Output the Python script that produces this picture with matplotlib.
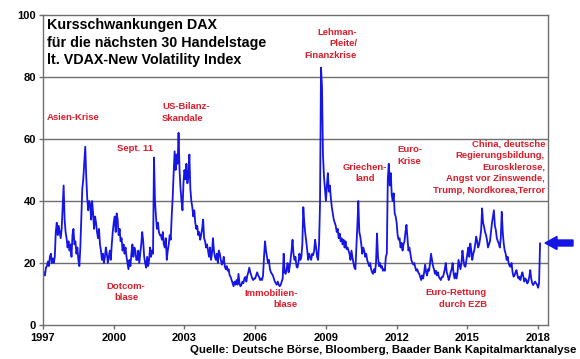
import numpy as np
import matplotlib
matplotlib.use("Agg")
import matplotlib.pyplot as plt
from matplotlib.patches import FancyArrow

# VDAX-New, semi-monthly readings (24 per year)
v1997 = [16, 17, 16, 18.5, 19, 20.5, 19, 22, 23, 20, 21.5, 20, 22, 30, 33, 29, 32, 30, 28, 31, 38, 45, 34, 30]
v1998 = [28, 25, 27, 24, 26, 22, 29, 31, 26, 27, 23, 25, 21, 19, 25, 35, 44, 47, 52, 57.5, 48, 41, 37, 40]
v1999 = [39, 34, 40, 36, 31, 35, 33, 30, 28, 31, 26, 24, 21, 23, 20, 22, 25, 23, 20, 22, 24, 21, 26, 30]
v2000 = [33, 35, 30, 36, 34, 29, 31, 27, 28, 24, 26, 23, 25, 22, 20, 18, 21, 19, 23, 26, 22, 25, 24, 21]
v2001 = [21, 24, 20, 23, 26, 30, 27, 22, 20, 18.5, 22, 19, 21, 25, 22, 24, 23, 54, 40, 35, 31, 33, 30, 29]
v2002 = [29, 27.5, 30, 26, 25, 28, 21, 24, 26, 29, 27.5, 35, 41, 49, 56, 50, 55, 52, 62, 50, 44, 40, 37, 46]
v2003 = [50, 47, 52, 45.7, 48, 55, 44, 40, 38, 35, 37, 33, 31, 32, 29, 30, 27.5, 29, 31, 34, 28, 27, 25, 26]
v2004 = [24, 22, 25, 21, 23, 28, 24, 22, 21, 23, 20, 24, 23, 21, 19.5, 20, 22, 19, 18, 19, 17.5, 18, 16, 15.5]
v2005 = [14.5, 13.5, 12.5, 14, 13, 14.5, 13, 16.5, 13.5, 12.5, 13, 14, 13.5, 15, 15.5, 14, 16, 17, 18.5, 17, 16, 15, 14.5, 15]
v2006 = [15, 16, 17, 16, 15.5, 14.5, 15, 14.5, 16, 22, 27, 24, 22, 20, 21, 18, 17, 16.5, 16, 15, 14, 13.5, 13, 14]
v2007 = [13, 12.5, 13, 14, 15, 23, 17, 16.5, 18, 20, 17, 18.5, 21, 24, 27.5, 23, 21, 22, 19, 18.5, 20, 23, 21, 22]
v2008 = [26, 38, 33, 29.5, 27, 24, 21, 23, 22, 21, 23, 22.5, 24, 27.5, 25, 22, 21, 26, 39, 83, 77, 55, 48, 44]
v2009 = [40, 45, 49, 43, 45, 41, 38, 36, 34, 33, 32, 30, 31, 28, 29.5, 27, 28, 26, 27.5, 25, 27, 24.5, 25, 24]
v2010 = [23, 21, 24, 22, 20, 18.5, 18, 25, 32, 40, 30, 28.5, 26, 23, 25, 24, 22, 23, 21, 20, 19, 20, 18, 17]
v2011 = [16.5, 18, 17, 20, 29.5, 22, 19, 20, 18.5, 19, 17.5, 18, 17.5, 22, 23, 47, 52, 45, 49, 42, 40, 42.5, 36, 35]
v2012 = [33, 29, 27.5, 28, 25, 26.5, 24, 26, 27, 30, 32.3, 28, 24, 25, 23, 21, 20, 19.5, 20, 18.5, 17.5, 18, 17, 16.5]
v2013 = [15.5, 14.5, 16, 15, 17, 19.5, 17, 16, 18, 17.5, 20, 23, 21, 19, 18, 16.5, 17.5, 16, 17, 15.5, 15, 14.5, 15.5, 15.5]
v2014 = [16.5, 18, 20, 17, 16, 14.5, 15.5, 17, 18, 20, 16.5, 15, 16.7, 15, 17, 21, 19.5, 18, 20, 24, 21, 19, 18.8, 21]
v2015 = [23, 25, 22, 26.3, 24, 21, 23, 24, 26, 28.5, 27, 25, 26, 28, 30.6, 37.6, 33, 31.7, 30, 29, 27.4, 25, 26, 27]
v2016 = [30, 32.8, 35, 37, 32, 30.6, 28, 27, 26.3, 25, 28, 36.5, 30, 26.3, 24, 23, 21, 22, 20, 19, 18.8, 20, 17, 15.6]
v2017 = [16, 17, 17.7, 16, 15, 15.5, 14.5, 16, 17, 15.6, 14, 15, 14.5, 13.4, 14, 15.5, 17.7, 15, 13.5, 12.9, 13.5, 14, 13.4, 13]
v2018 = [12, 13.5, 26.3]

years = list(range(1997, 2019))
series = [v1997, v1998, v1999, v2000, v2001, v2002, v2003, v2004, v2005, v2006, v2007,
          v2008, v2009, v2010, v2011, v2012, v2013, v2014, v2015, v2016, v2017, v2018]

xtick_years = [1997, 2000, 2003, 2006, 2009, 2012, 2015, 2018]
yticks = [0, 20, 40, 60, 80, 100]

t = np.concatenate([y + np.arange(len(v)) / 24.0 for y, v in zip(years, series)])
vals = np.concatenate([np.asarray(v, float) for v in series])

W, H = 580, 359
fig = plt.figure(figsize=(W / 100, H / 100), dpi=100)
ax = fig.add_axes([43 / W, 1 - 325 / H, (548 - 43) / W, (325 - 15) / H])

FONT = "Liberation Sans"
RED = "#dd1c2a"
GRAY = "#6e6e6e"

ax.plot(t, vals, color="#1515e6", lw=1.3)
ax.set_xlim(1997, 2018.42)
ax.set_ylim(0, 100)
ax.set_xticks(xtick_years)
ax.set_xticklabels([str(y) for y in xtick_years], fontfamily=FONT, fontweight="bold", fontsize=8)
ax.set_yticks(yticks)
ax.set_yticklabels([str(y) for y in yticks], fontfamily=FONT, fontweight="bold", fontsize=8)
for yv in yticks[1:-1]:
    ax.axhline(yv, color=GRAY, lw=1.0, zorder=0)
for s in ax.spines.values():
    s.set_color(GRAY)
    s.set_linewidth(1.0)
ax.tick_params(axis="both", direction="out", length=3, color=GRAY, width=1, pad=2)
ax.tick_params(axis="x", pad=3)


def T(x, y, s, ha="left", va="center", **kw):
    fig.text(x / W, 1 - y / H, s, ha=ha, va=va, fontfamily=FONT, **kw)


T(47, 42.5, "Kursschwankungen DAX\nfür die nächsten 30 Handelstage\nlt. VDAX-New Volatility Index",
  fontsize=10.3, fontweight="bold", color="black", linespacing=1.31)

red = dict(fontsize=6.8, fontweight="bold", color=RED, linespacing=1.38)
T(47, 117, "Asien-Krise", **red)
T(117, 149, "Sept. 11", **red)
T(162, 112.5, "US-Bilanz-\nSkandale", **red)
T(357, 44, "Lehman-\nPleite/\nFinanzkrise", ha="right", multialignment="right", **red)
T(365, 173, "Griechen-\nland", ha="center", multialignment="center", **red)
T(397, 155.5, "Euro-\nKrise", **red)
T(545, 167, "China, deutsche\nRegierungsbildung,\nEurosklerose,\nAngst vor Zinswende,\nTrump, Nordkorea,Terror",
  ha="right", multialignment="right", **red)
T(126, 292, "Dotcom-\nblase", ha="center", multialignment="center", **red)
T(298, 299, "Immobilien-\nblase", ha="right", multialignment="right", **red)
T(487, 298.5, "Euro-Rettung\ndurch EZB", ha="right", multialignment="right", **red)

T(576, 350, "Quelle: Deutsche Börse, Bloomberg, Baader Bank Kapitalmarktanalyse", ha="right",
  fontsize=8.2, fontweight="bold", color="black")

arr = FancyArrow(573 / W, 1 - 243 / H, -(573 - 545) / W, 0, width=6 / H, head_width=13 / H,
                 head_length=12 / W, length_includes_head=True, color="#1515e6",
                 transform=fig.transFigure)
fig.add_artist(arr)

fig.savefig("out.png", dpi=100)
